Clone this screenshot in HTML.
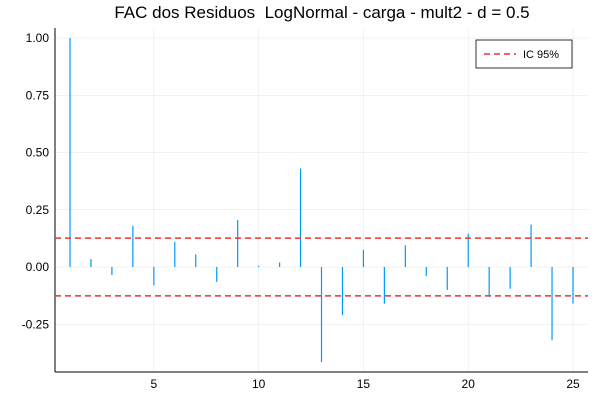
<!DOCTYPE html>
<html><head><meta charset="utf-8"><style>
body{margin:0;background:#fff;font-family:"Liberation Sans",sans-serif}
svg text{font-family:"Liberation Sans",sans-serif}
</style></head><body>
<svg id="chart" width="600" height="400" xmlns="http://www.w3.org/2000/svg">
<text x="322" y="18" text-anchor="middle" font-size="17" fill="#000">FAC dos Residuos &#160;LogNormal - carga - mult2 - d = 0.5</text>
<g id="grid"></g><g id="axes"></g><g id="marks"></g>
<g>
<rect x="476" y="40" width="96" height="28" fill="#fff" stroke="#000" stroke-width="0.8"/>
<line x1="484" y1="54" x2="516" y2="54" stroke="#e8352b" stroke-width="1.5" stroke-dasharray="6,4"/>
<text x="523" y="58" font-size="11">IC 95%</text>
</g>
</svg>
<script>
const lags=[1,2,3,4,5,6,7,8,9,10,11,12,13,14,15,16,17,18,19,20,21,22,23,24,25];
const acf=[1.0,0.035,-0.035,0.18,-0.08,0.11,0.055,-0.065,0.205,0.005,0.02,0.43,-0.415,-0.21,0.075,-0.16,0.095,-0.04,-0.1,0.145,-0.13,-0.095,0.185,-0.32,-0.16];
const ic=0.126;
const xTicks=[5,10,15,20,25];
const yTicks=[-0.25,0,0.25,0.5,0.75,1.0];
const yLabels=["-0.25","0.00","0.25","0.50","0.75","1.00"];
const L=55,R=588,T=28,B=372;
const x=v=>70+(v-1)*(573-70)/24;
const y=v=>267-v*229;
const ns="http://www.w3.org/2000/svg";
function mk(t,a,p){const e=document.createElementNS(ns,t);for(const k in a)e.setAttribute(k,a[k]);p.appendChild(e);return e;}
const g=document.getElementById('grid'),ax=document.getElementById('axes'),m=document.getElementById('marks');
xTicks.forEach(v=>{const l=mk('line',{x1:x(v),x2:x(v),y1:T,y2:B,stroke:'#000','stroke-opacity':0.1,'stroke-width':0.5},g);


const t=mk('text',{x:x(v),y:B+16,'text-anchor':'middle','font-size':12},ax);t.textContent=v;

});
yTicks.forEach((v,i)=>{const l=mk('line',{x1:L,x2:R,y1:y(v),y2:y(v),stroke:'#000','stroke-opacity':0.1,'stroke-width':0.5},g);


const t=mk('text',{x:L-6,y:y(v)+4,'text-anchor':'end','font-size':12},ax);t.textContent=yLabels[i];

});
const a1=mk('line',{x1:L,x2:L,y1:T,y2:B,stroke:'#000','stroke-width':1},ax);


const a2=mk('line',{x1:L,x2:R,y1:B,y2:B,stroke:'#000','stroke-width':1},ax);


lags.forEach((l,i)=>{const b=mk('line',{x1:x(l),x2:x(l),y1:y(0),y2:y(acf[i]),stroke:'#009af9','stroke-width':1.2},m);

});
[ic,-ic].forEach(v=>{const l=mk('line',{x1:L,x2:R,y1:y(v),y2:y(v),stroke:'#e8352b','stroke-width':1.5,'stroke-dasharray':'6,4'},m);

});
</script>
</body></html>
